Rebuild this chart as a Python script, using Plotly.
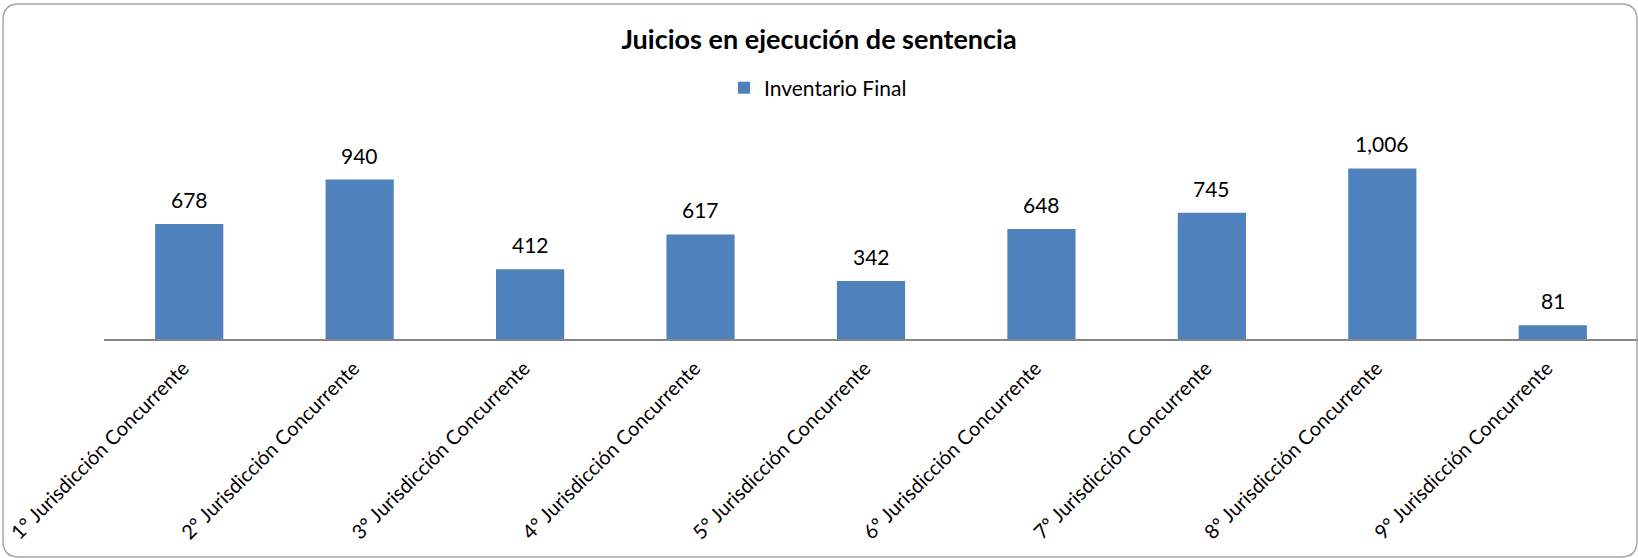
"""
Juicios en ejecucion de sentencia - bar chart
"""
import plotly.graph_objects as go

categories = [
    "1° Jurisdicción Concurrente",
    "2° Jurisdicción Concurrente",
    "3° Jurisdicción Concurrente",
    "4° Jurisdicción Concurrente",
    "5° Jurisdicción Concurrente",
    "6º Jurisdicción Concurrente",
    "7º Jurisdicción Concurrente",
    "8º Jurisdicción Concurrente",
    "9° Jurisdicción Concurrente",
]
inventario_final = [678, 940, 412, 617, 342, 648, 745, 1006, 81]

FONT = "Lato, 'Open Sans', sans-serif"
BAR_COLOR = "#4F81BD"

fig = go.Figure()

fig.add_trace(go.Bar(
    x=categories,
    y=inventario_final,
    name="Inventario Final",
    marker_color=BAR_COLOR,
    marker_line_width=0,
    width=0.4,
))

# data labels above each bar
for cat, val in zip(categories, inventario_final):
    fig.add_annotation(
        x=cat, y=val, text="{:,}".format(val),
        showarrow=False, yanchor="bottom", yshift=10,
        font=dict(family=FONT, size=21, color="black"),
    )

# rounded chart border, drawn in pixels relative to the plot's bottom-left corner
left, right, bottom, top, r = -101, 1533, -218, 335, 16
path = (
    f"M {left + r},{top} L {right - r},{top} Q {right},{top} {right},{top - r} "
    f"L {right},{bottom + r} Q {right},{bottom} {right - r},{bottom} "
    f"L {left + r},{bottom} Q {left},{bottom} {left},{bottom + r} "
    f"L {left},{top - r} Q {left},{top} {left + r},{top} Z"
)
fig.add_shape(
    type="path", path=path,
    xref="paper", yref="paper", xsizemode="pixel", ysizemode="pixel",
    xanchor=0, yanchor=0,
    line=dict(color="#A6A6A6", width=1.5),
)

fig.update_layout(
    width=1638,
    height=558,
    margin=dict(l=104, r=0, t=144, b=219),
    paper_bgcolor="white",
    plot_bgcolor="white",
    font=dict(family=FONT, color="black"),
    title=dict(
        text="<b>Juicios en ejecución de sentencia</b>",
        x=0.5, xanchor="center", y=1 - 40 / 558, yanchor="middle",
        font=dict(family=FONT, size=27, color="black"),
    ),
    showlegend=True,
    legend=dict(
        orientation="h",
        xref="container", yref="container",
        x=818 / 1638, xanchor="center",
        y=1 - 88 / 558, yanchor="middle",
        font=dict(family=FONT, size=21, color="black"),
    ),
    bargap=0.6,
)

fig.update_xaxes(
    range=[-0.5, 8.5],
    tickangle=-45,
    showline=True,
    linecolor="#868686",
    linewidth=1.5,
    ticks="",
    showgrid=False,
    automargin=False,
    ticklabelshift=-6,
    ticklabelstandoff=8,
    tickfont=dict(family=FONT, size=20, color="black"),
)
fig.update_yaxes(
    range=[0, 1150],
    visible=False,
    showgrid=False,
)

# drop the default body margin so the figure sits at the window's corner
fig.write_html(
    "out.html",
    config={"displayModeBar": False},
    post_script="document.body.style.margin='0';",
)
